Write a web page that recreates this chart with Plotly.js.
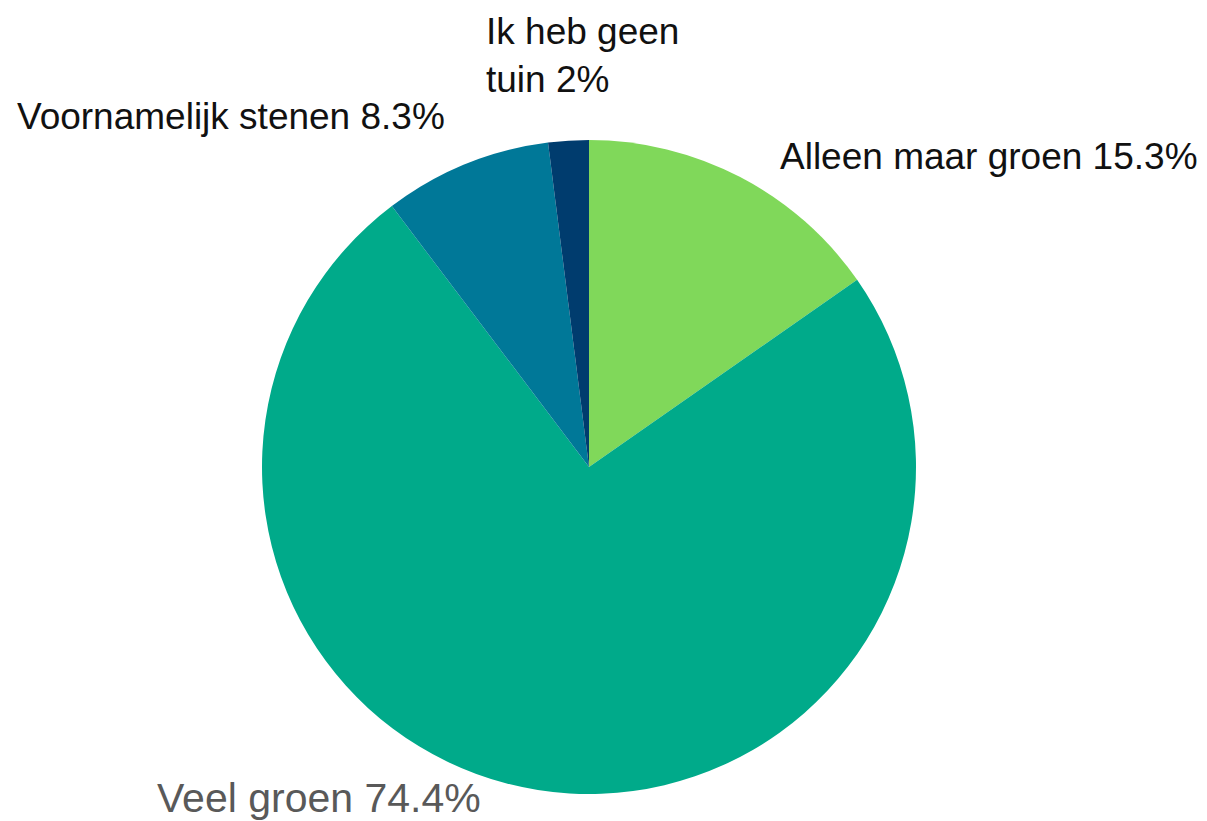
<!DOCTYPE html>
<html>
<head>
<meta charset="utf-8">
<script src="https://cdn.plot.ly/plotly-3.0.1.min.js"></script>
<style>html,body{margin:0;padding:0;background:#fff;}#chart{width:1207px;height:821px;}</style>
</head>
<body>
<div id="chart"></div>
<script>
const labels = ['Alleen maar groen', 'Veel groen', 'Voornamelijk stenen', 'Ik heb geen tuin'];
const values = [15.3, 74.4, 8.3, 2];
const colors = ['#80d85a', '#00aa8a', '#007898', '#003c6e'];

// label placement (paper coords) and styling, kept separate from data
const labelPos = [
  {x: 0.6446, y: 0.8088, size: 37, color: '#111111'},
  {x: 0.1284, y: 0.028, size: 41, color: '#595959'},
  {x: 0.0124, y: 0.8575, size: 37, color: '#111111'},
  {x: 0.401, y: 0.933, size: 37, color: '#111111'}
];
const wrapped = {'Ik heb geen tuin': 'Ik heb geen<br>tuin'};

const annotations = labels.map((l, i) => ({
  text: (wrapped[l] || l) + ' ' + values[i] + '%',
  x: labelPos[i].x, y: labelPos[i].y,
  xref: 'paper', yref: 'paper',
  xanchor: 'left', yanchor: 'middle', align: 'left',
  showarrow: false,
  font: {family: 'Liberation Sans, Arial, sans-serif', size: labelPos[i].size, color: labelPos[i].color}
}));

Plotly.newPlot('chart', [{
  type: 'pie',
  labels: labels,
  values: values,
  sort: false,
  direction: 'clockwise',
  rotation: 0,
  textinfo: 'none',
  marker: {colors: colors, line: {width: 0}},
  domain: {x: [262/1207, 916/1207], y: [27/821, 681/821]},
  showlegend: false
}], {
  width: 1207, height: 821,
  margin: {l: 0, r: 0, t: 0, b: 0},
  paper_bgcolor: '#ffffff',
  showlegend: false,
  annotations: annotations
}, {displayModeBar: false, staticPlot: true});
</script>
</body>
</html>
